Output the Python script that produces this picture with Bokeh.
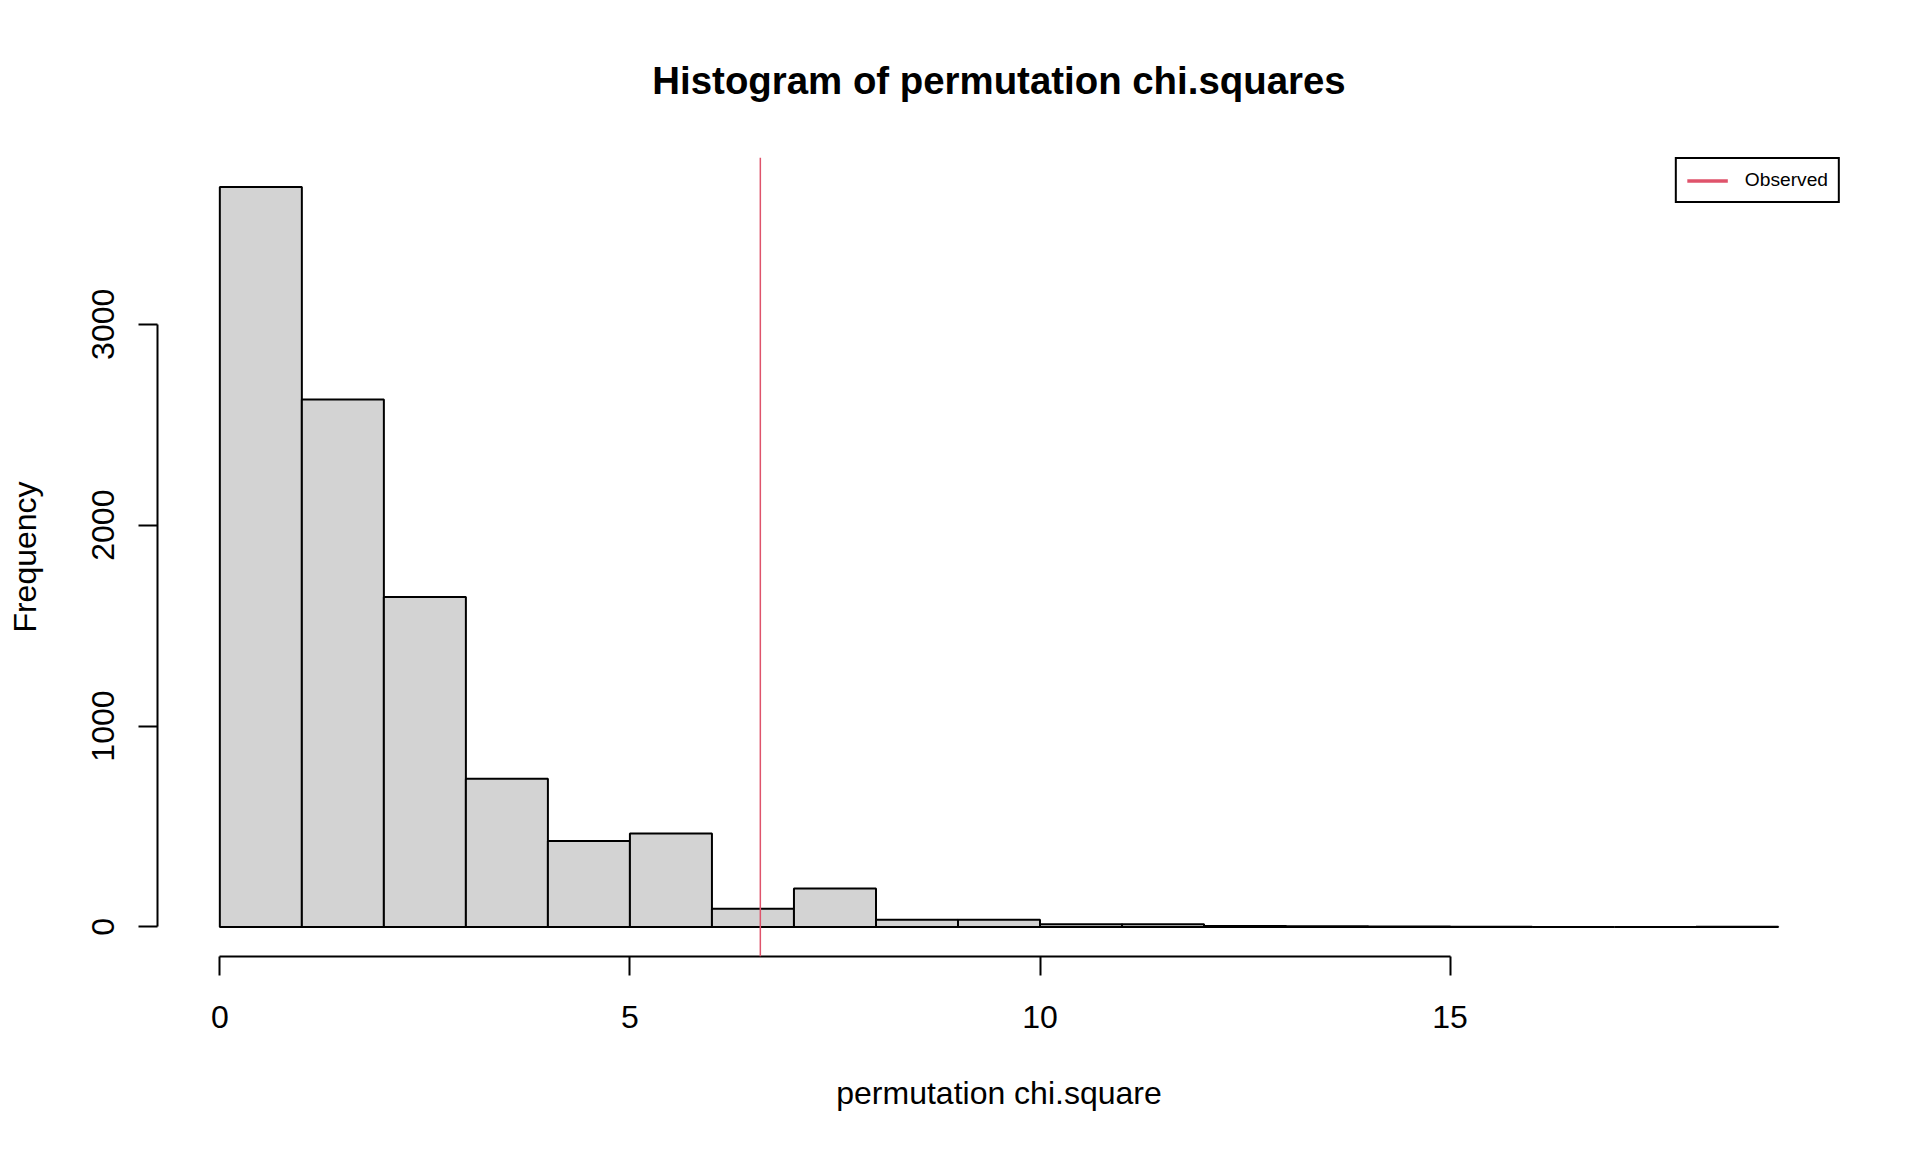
from bokeh.plotting import figure
from bokeh.models import Range1d, Span, Legend, LegendItem, FixedTicker
from bokeh.embed import file_html
from bokeh.resources import INLINE

# ---- data ----
bin_edges = list(range(0, 20))
counts = [3683, 2625, 1642, 738, 428, 465, 91, 191, 36, 36, 13, 13, 4, 3, 2, 1, 0, 0, 1]
observed = 6.59
x_ticks = [0, 5, 10, 15]
y_ticks = [0, 1000, 2000, 3000]

title_text = "Histogram of permutation chi.squares"
x_label = "permutation chi.square"
y_label = "Frequency"
legend_label = "Observed"

FONT = "Liberation Sans"
RED = "#DF536B"

xmin, xmax = bin_edges[0], bin_edges[-1]
xpad = 0.04 * (xmax - xmin)
ymax = max(counts)
ypad = 0.04 * ymax

p = figure(width=1904, height=1136, output_backend="svg", toolbar_location=None,
           x_range=Range1d(xmin - xpad, xmax + xpad),
           y_range=Range1d(-ypad, ymax + ypad),
           min_border_left=157, min_border_right=64,
           min_border_top=157, min_border_bottom=180)

p.background_fill_color = "white"
p.border_fill_color = "white"
p.outline_line_color = None
p.xgrid.visible = False
p.ygrid.visible = False

# title
p.title.text = title_text
p.title.text_font = FONT
p.title.text_font_size = "38.4px"
p.title.text_font_style = "bold"
p.title.align = "center"
p.title.text_color = "black"
p.title.standoff = 112

# bars
p.quad(left=bin_edges[:-1], right=bin_edges[1:], bottom=0, top=counts,
       fill_color="#D3D3D3", line_color="black", line_width=2)

# observed line
p.add_layout(Span(location=observed, dimension="height", line_color=RED, line_width=1.5))

# legend glyph (renderer kept hidden; legend draws its glyph)
obs_leg = p.segment(x0=[observed], x1=[observed], y0=[0], y1=[ymax],
                    line_color=RED, line_width=3.5, visible=False)
legend = Legend(items=[LegendItem(label=legend_label, renderers=[obs_leg])],
                location="top_right", margin=0, padding=10,
                border_line_color="black", border_line_width=2, border_line_alpha=1.0,
                background_fill_color="white", background_fill_alpha=1.0,
                inactive_fill_alpha=0.0,
                label_text_font=FONT, label_text_font_size="19.2px",
                label_text_color="black",
                glyph_width=41, glyph_height=13, label_height=13, label_standoff=17)
p.add_layout(legend)

# axes
for ax in (p.xaxis[0], p.yaxis[0]):
    ax.axis_line_width = 2
    ax.axis_line_color = "black"
    ax.major_tick_line_width = 2
    ax.major_tick_line_color = "black"
    ax.major_tick_in = 0
    ax.major_tick_out = 19
    ax.minor_tick_in = 0
    ax.minor_tick_out = 0
    ax.minor_tick_line_color = None
    ax.major_label_text_font = FONT
    ax.major_label_text_font_size = "32px"
    ax.major_label_text_color = "black"
    ax.axis_label_text_font = FONT
    ax.axis_label_text_font_size = "32px"
    ax.axis_label_text_font_style = "normal"
    ax.axis_label_text_color = "black"

p.xaxis.ticker = FixedTicker(ticks=x_ticks)
p.xaxis.bounds = (x_ticks[0], x_ticks[-1])
p.xaxis.axis_label = x_label
p.xaxis.major_label_standoff = 30
p.xaxis.axis_label_standoff = 44

p.yaxis.ticker = FixedTicker(ticks=y_ticks)
p.yaxis.bounds = (y_ticks[0], y_ticks[-1])
p.yaxis.axis_label = y_label
p.yaxis.major_label_orientation = "vertical"
p.yaxis.major_label_standoff = 24
p.yaxis.axis_label_standoff = 47

open("out.html", "w").write(file_html(p, INLINE))
